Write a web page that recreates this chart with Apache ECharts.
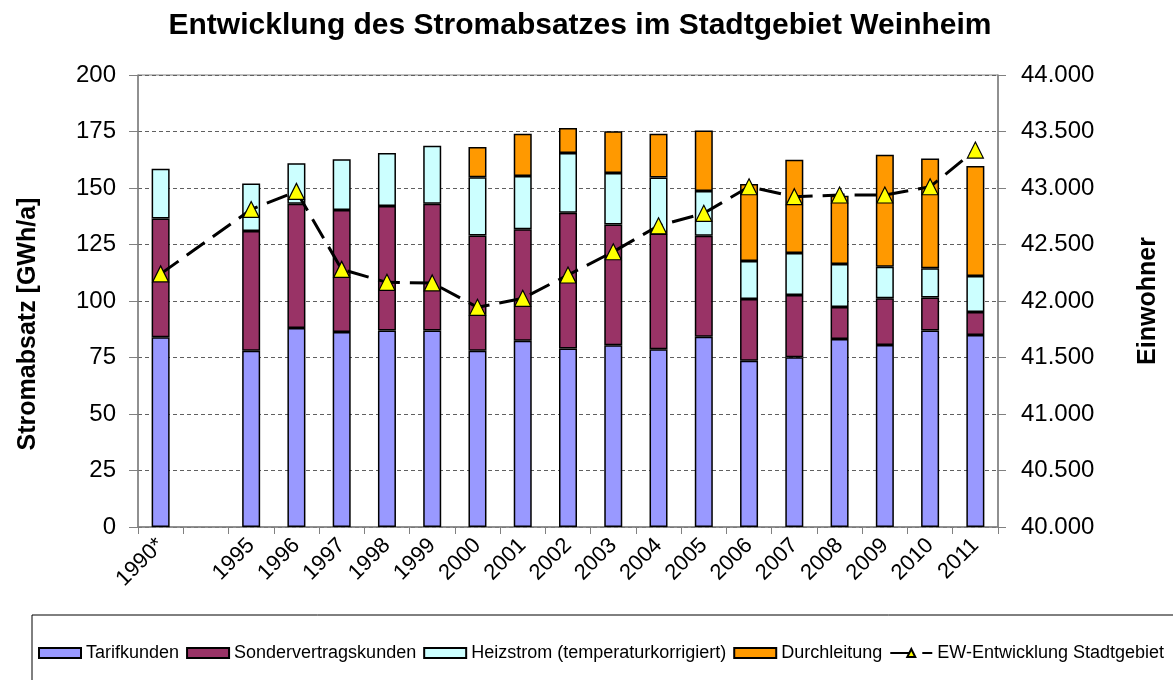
<!DOCTYPE html>
<html>
<head>
<meta charset="utf-8">
<script src="https://cdn.jsdelivr.net/npm/echarts@6/dist/echarts.min.js"></script>
<style>
  html, body { margin: 0; padding: 0; background: #fff; }
  #chart { width: 1173px; height: 680px; }
</style>
</head>
<body>
<div id="chart"></div>
<script>
// Jahre (leere Kategorie zwischen 1990* und 1995)
var years = ["1990*", "", "1995", "1996", "1997", "1998", "1999", "2000", "2001", "2002",
  "2003", "2004", "2005", "2006", "2007", "2008", "2009", "2010", "2011"];

// Stromabsatz in GWh/a
var tarifkunden = [84, null, 78, 88, 86.3, 87, 87, 78, 82.4, 79, 80.4, 78.6, 84.2, 73.6, 75.1, 83.2, 80.5, 87, 85];
var sonderkunden = [52.5, null, 53, 55, 54, 55, 56, 51, 49.3, 60, 53.5, 51.3, 44.7, 27.3, 27.6, 14.1, 20.7, 14.5, 10.1];
var heizstrom = [22, null, 21, 18, 22.4, 23.5, 25.7, 25.8, 23.6, 26.5, 22.7, 24.8, 19.8, 16.8, 18.5, 19.1, 14, 13, 16];
var durchleitung = [null, null, null, null, null, null, null, 13.3, 18.7, 11, 18.5, 19.3, 26.7, 34.1, 41.3, 30.2, 49.5, 48.5, 48.6];

// Einwohner
var einwohner = [42240, null, 42810, 42970, 42280, 42165, 42160, 41944, 42024, 42230,
  42436, 42666, 42776, 43011, 42923, 42938, 42938, 43011, 43336];

function thousands(v) {
  return String(v).replace(/\B(?=(\d{3})+(?!\d))/g, ".");
}

var font = "Liberation Sans, Arial, sans-serif";

function barSeries(name, data, color) {
  return {
    name: name,
    type: "bar",
    stack: "absatz",
    barWidth: 18,
    data: data,
    itemStyle: { color: color, borderColor: "#000", borderWidth: 1.5 }
  };
}

var myChart = echarts.init(document.getElementById("chart"));
var option = {
  animation: false,
  textStyle: { fontFamily: font },
  title: {
    text: "Entwicklung des Stromabsatzes im Stadtgebiet Weinheim",
    left: 575,
    top: 6,
    textAlign: "center",
    textStyle: { fontSize: 30, fontWeight: "bold", color: "#000", fontFamily: font }
  },
  grid: {
    left: 138, right: 175, top: 75, bottom: 153,
    show: true, borderColor: "#808080", borderWidth: 1
  },
  legend: {
    left: 38,
    top: 644,
    width: 1160,
    padding: 0,
    itemWidth: 42,
    itemHeight: 10,
    itemGap: 7,
    textStyle: { fontSize: 18, color: "#000", fontFamily: font },
    data: [
      { name: "Tarifkunden", icon: "rect" },
      { name: "Sondervertragskunden", icon: "rect" },
      { name: "Heizstrom (temperaturkorrigiert)", icon: "rect" },
      { name: "Durchleitung", icon: "rect" },
      { name: "EW-Entwicklung Stadtgebiet" }
    ]
  },
  graphic: [{
    type: "rect",
    shape: { x: 32, y: 615, width: 1160, height: 100 },
    style: { fill: "none", stroke: "#000", lineWidth: 1 },
    silent: true
  }],
  xAxis: {
    type: "category",
    data: years,
    axisLine: { lineStyle: { color: "#808080", width: 1.5 } },
    axisTick: { show: true, interval: 0, length: 7, lineStyle: { color: "#808080" } },
    axisLabel: { interval: 0, rotate: 45, fontSize: 22, color: "#000", margin: 15 }
  },
  yAxis: [
    {
      type: "value",
      min: 0,
      max: 200,
      interval: 25,
      name: "Stromabsatz [GWh/a]",
      nameLocation: "middle",
      nameGap: 97,
      nameTextStyle: { fontSize: 25, fontWeight: "bold", color: "#000", padding: [0, 46, 0, 0] },
      axisLine: { show: true, lineStyle: { color: "#808080", width: 1.5 } },
      axisTick: { show: true, length: 9, lineStyle: { color: "#808080" } },
      axisLabel: { fontSize: 24, color: "#000", margin: 22 },
      splitLine: { lineStyle: { color: "#606060", type: [4, 3], width: 1 } }
    },
    {
      type: "value",
      min: 40000,
      max: 44000,
      interval: 500,
      name: "Einwohner",
      nameLocation: "middle",
      nameGap: 138,
      nameRotate: 90,
      nameTextStyle: { fontSize: 25, fontWeight: "bold", color: "#000" },
      axisLine: { show: true, lineStyle: { color: "#808080", width: 1.5 } },
      axisTick: { show: true, length: 8, lineStyle: { color: "#808080" } },
      axisLabel: { fontSize: 24, color: "#000", margin: 23, formatter: thousands },
      splitLine: { show: false }
    }
  ],
  series: [
    barSeries("Tarifkunden", tarifkunden, "#9999FF"),
    barSeries("Sondervertragskunden", sonderkunden, "#993366"),
    barSeries("Heizstrom (temperaturkorrigiert)", heizstrom, "#CCFFFF"),
    barSeries("Durchleitung", durchleitung, "#FF9900"),
    {
      name: "EW-Entwicklung Stadtgebiet",
      type: "line",
      yAxisIndex: 1,
      data: einwohner,
      connectNulls: true,
      symbol: "triangle",
      symbolSize: 16,
      lineStyle: { color: "#000", width: 3, type: [22, 10] },
      itemStyle: { color: "#FFFF00", borderColor: "#000", borderWidth: 1.2 },
      z: 5
    }
  ]
};
myChart.setOption(option, true);
</script>
</body>
</html>
